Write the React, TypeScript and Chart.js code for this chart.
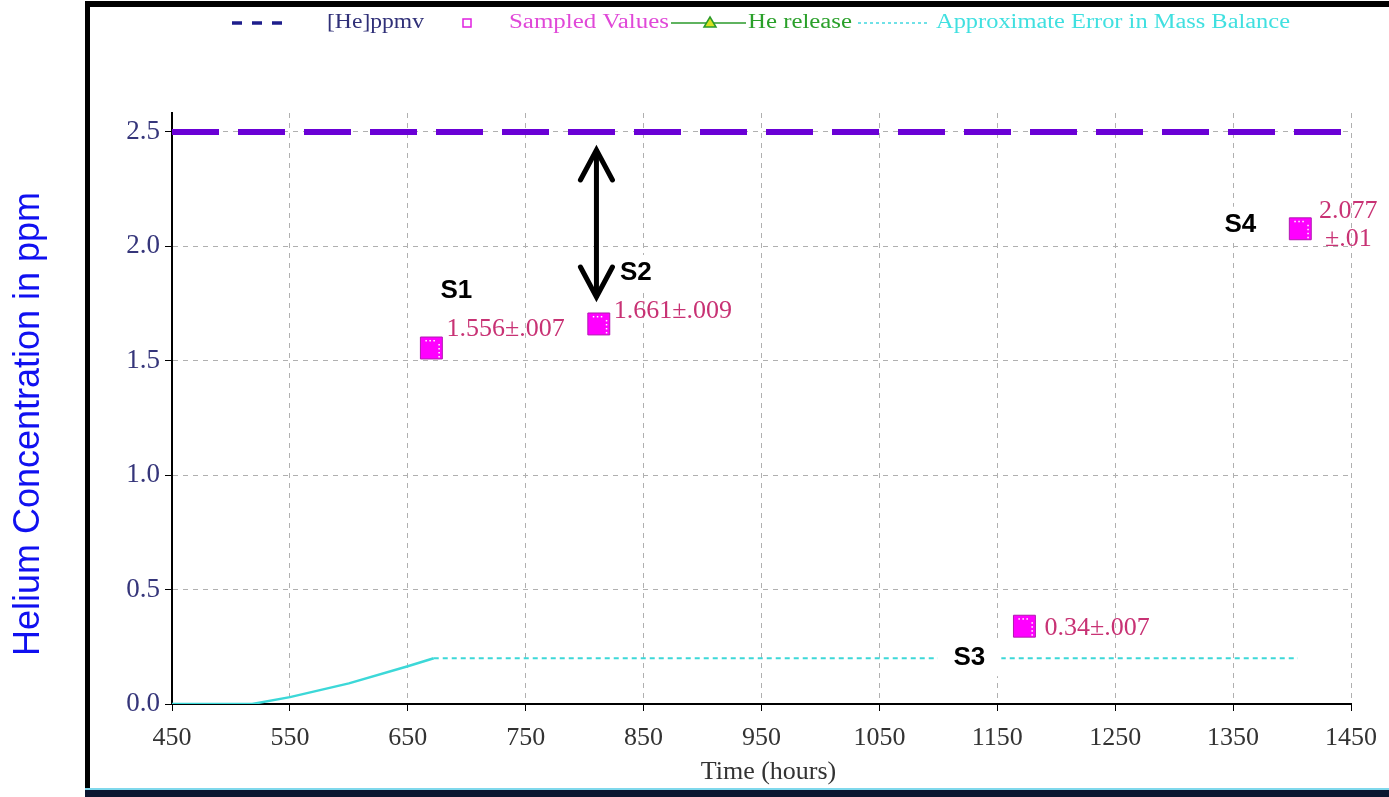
import React, { useEffect, useRef } from "react";
import { Chart, registerables } from "chart.js";

Chart.register(...registerables);

// ---------- data ----------
const X_TICKS = [450, 550, 650, 750, 850, 950, 1050, 1150, 1250, 1350, 1450];
const Y_TICKS = [0, 0.5, 1.0, 1.5, 2.0, 2.5];
const X_MIN = 450;
const X_MAX = 1450;
const Y_MIN = 0;
const Y_MAX = 2.583;

const HE_PPMV_HOURS = [450, 1450];
const HE_PPMV_VALUES = [2.5, 2.5];

const SAMPLE_HOURS = [670, 812, 1173, 1407];
const SAMPLE_VALUES = [1.556, 1.661, 0.34, 2.077];
const SAMPLE_TEXT = [["1.556±.007"], ["1.661±.009"], ["0.34±.007"], ["2.077", "±.01"]];
const SAMPLE_NAMES = ["S1", "S2", "S3", "S4"];

const HE_RELEASE_HOURS: number[] = [];
const HE_RELEASE_VALUES: number[] = [];

const ERROR_HOURS = [450, 518, 550, 600, 650, 672, 1405];
const ERROR_VALUES = [0, 0, 0.03, 0.09, 0.165, 0.2, 0.2];
const ERROR_DASH_FROM = 672;

const ARROW_HOUR = 810;
const ARROW_TOP = 2.43;
const ARROW_BOTTOM = 1.77;

const LEGEND_LABELS = ["[He]ppmv", "Sampled Values", "He release", "Approximate Error in Mass Balance"];
const X_TITLE = "Time (hours)";
const Y_TITLE = "Helium Concentration in ppm";

// ---------- layout (pixels) ----------
const NAME_OFFSETS = [
  [25, -57],
  [37, -51],
  [-55, 32],
  [-60, -4],
];
const TEXT_OFFSETS = [
  { dx: 15, dys: [-19], center: false },
  { dx: 15, dys: [-13], center: false },
  { dx: 20, dys: [2], center: false },
  { dx: 48, dys: [-18, 10], center: true },
];

const SERIF = '"Liberation Serif", "Times New Roman", serif';
const SANS = '"Liberation Sans", Arial, sans-serif';

function stretchText(ctx: CanvasRenderingContext2D, text: string, x: number, y: number, w: number, font: string, color: string) {
  ctx.save();
  ctx.font = font;
  ctx.fillStyle = color;
  ctx.textBaseline = "middle";
  ctx.textAlign = "left";
  const m = ctx.measureText(text).width;
  ctx.translate(x, y);
  ctx.scale(w / m, 1);
  ctx.fillText(text, 0, 0);
  ctx.restore();
}

const decorPlugin = {
  id: "decor",
  beforeDraw(chart: any) {
    const ctx: CanvasRenderingContext2D = chart.ctx;
    const W = chart.width;
    const H = chart.height;
    ctx.save();
    ctx.fillStyle = "#ffffff";
    ctx.fillRect(0, 0, W, H);
    // frame
    ctx.fillStyle = "#000000";
    ctx.fillRect(85, 1, W - 85, 6);
    ctx.fillRect(85, 1, 5, H - 1);
    ctx.fillStyle = "#7fd8ec";
    ctx.fillRect(85, 788, W - 85, 2);
    ctx.fillStyle = "#0b1630";
    ctx.fillRect(85, 790, W - 85, H - 790);
    ctx.restore();
  },
  afterDatasetsDraw(chart: any) {
    const ctx: CanvasRenderingContext2D = chart.ctx;
    const xs = chart.scales.x;
    const ys = chart.scales.y;
    const area = chart.chartArea;
    ctx.save();

    // white speckle inside sample markers
    ctx.fillStyle = "#ffffff";
    SAMPLE_HOURS.forEach((h, i) => {
      const px = xs.getPixelForValue(h);
      const py = ys.getPixelForValue(SAMPLE_VALUES[i]);
      for (let k = -6; k <= 4; k += 4) ctx.fillRect(px + k, py - 8, 1.5, 1.5);
      for (let k = -4; k <= 8; k += 4) ctx.fillRect(px + 7, py + k, 1.5, 1.5);
    });

    // value labels
    ctx.font = `26px ${SERIF}`;
    ctx.fillStyle = "#c83274";
    ctx.textBaseline = "middle";
    SAMPLE_TEXT.forEach((lines, i) => {
      const px = xs.getPixelForValue(SAMPLE_HOURS[i]);
      const py = ys.getPixelForValue(SAMPLE_VALUES[i]);
      const o = TEXT_OFFSETS[i];
      ctx.textAlign = o.center ? "center" : "left";
      lines.forEach((t, j) => ctx.fillText(t, px + o.dx, py + o.dys[j]));
    });

    // sample names with white boxes
    ctx.font = `bold 26px ${SANS}`;
    ctx.textAlign = "center";
    SAMPLE_NAMES.forEach((n, i) => {
      const px = xs.getPixelForValue(SAMPLE_HOURS[i]) + NAME_OFFSETS[i][0];
      const py = ys.getPixelForValue(SAMPLE_VALUES[i]) + NAME_OFFSETS[i][1];
      const w = ctx.measureText(n).width;
      ctx.fillStyle = "#ffffff";
      ctx.fillRect(px - w / 2 - 16, py - 18, w + 32, 36);
      ctx.fillStyle = "#000000";
      ctx.fillText(n, px, py);
    });

    // double arrow
    const ax = xs.getPixelForValue(ARROW_HOUR);
    const ay1 = ys.getPixelForValue(ARROW_TOP);
    const ay2 = ys.getPixelForValue(ARROW_BOTTOM);
    ctx.strokeStyle = "#000000";
    ctx.lineWidth = 5;
    ctx.lineCap = "round";
    ctx.lineJoin = "miter";
    ctx.beginPath();
    ctx.moveTo(ax, ay1 + 3);
    ctx.lineTo(ax, ay2 - 3);
    ctx.stroke();
    ctx.beginPath();
    ctx.moveTo(ax - 16, ay1 + 32);
    ctx.lineTo(ax, ay1 + 2);
    ctx.lineTo(ax + 16, ay1 + 32);
    ctx.stroke();
    ctx.beginPath();
    ctx.moveTo(ax - 16, ay2 - 32);
    ctx.lineTo(ax, ay2 - 2);
    ctx.lineTo(ax + 16, ay2 - 32);
    ctx.stroke();

    // legend
    const ly = 23;
    ctx.lineCap = "butt";
    ctx.strokeStyle = "#1e1e8c";
    ctx.lineWidth = 3.5;
    [[232, 242], [252, 262], [272, 282]].forEach(([a, b]) => {
      ctx.beginPath();
      ctx.moveTo(a, ly);
      ctx.lineTo(b, ly);
      ctx.stroke();
    });
    stretchText(ctx, LEGEND_LABELS[0], 327, ly, 97, `20px ${SERIF}`, "#303078");
    ctx.strokeStyle = "#e020e0";
    ctx.lineWidth = 1.5;
    ctx.strokeRect(463, ly - 4, 8, 8);
    stretchText(ctx, LEGEND_LABELS[1], 509, ly, 160, `20px ${SERIF}`, "#e048d8");
    ctx.strokeStyle = "#2a9a2a";
    ctx.lineWidth = 1.5;
    ctx.beginPath();
    ctx.moveTo(671, ly);
    ctx.lineTo(746, ly);
    ctx.stroke();
    ctx.fillStyle = "#d8e020";
    ctx.beginPath();
    ctx.moveTo(710, ly - 6);
    ctx.lineTo(716, ly + 4);
    ctx.lineTo(704, ly + 4);
    ctx.closePath();
    ctx.fill();
    ctx.stroke();
    stretchText(ctx, LEGEND_LABELS[2], 748, ly, 104, `20px ${SERIF}`, "#2aa02a");
    ctx.strokeStyle = "#40d8e0";
    ctx.lineWidth = 1.5;
    ctx.setLineDash([3, 3]);
    ctx.beginPath();
    ctx.moveTo(858, ly);
    ctx.lineTo(928, ly);
    ctx.stroke();
    ctx.setLineDash([]);
    stretchText(ctx, LEGEND_LABELS[3], 936, ly, 354, `20px ${SERIF}`, "#40e0e0");

    // axis titles
    ctx.font = `26px ${SERIF}`;
    ctx.fillStyle = "#333333";
    ctx.textAlign = "center";
    ctx.textBaseline = "middle";
    ctx.fillText(X_TITLE, (area.left + area.right) / 2 + 7, 772);

    ctx.translate(29, 424);
    ctx.rotate(-Math.PI / 2);
    ctx.font = `36px ${SANS}`;
    ctx.fillStyle = "#1010f0";
    ctx.fillText(Y_TITLE, 0, 0);
    ctx.restore();
  },
};

export default function App() {
  const ref = useRef<HTMLCanvasElement | null>(null);
  useEffect(() => {
    if (!ref.current) return;
    const Y_W = 60;
    const X_H = 60;
    const chart = new Chart(ref.current, {
      type: "line",
      data: {
        datasets: [
          {
            label: LEGEND_LABELS[0],
            data: HE_PPMV_HOURS.map((x, i) => ({ x, y: HE_PPMV_VALUES[i] })),
            borderColor: "#6a00d6",
            borderWidth: 6,
            borderDash: [47, 19],
            borderCapStyle: "butt",
            pointRadius: 0,
            fill: false,
          },
          {
            label: LEGEND_LABELS[1],
            data: SAMPLE_HOURS.map((x, i) => ({ x, y: SAMPLE_VALUES[i] })),
            showLine: false,
            pointStyle: "rect",
            pointRadius: 15.5,
            backgroundColor: "#ff00ff",
            borderColor: "#b018b0",
            borderWidth: 1,
          },
          {
            label: LEGEND_LABELS[2],
            data: HE_RELEASE_HOURS.map((x, i) => ({ x, y: HE_RELEASE_VALUES[i] })),
            borderColor: "#2a9a2a",
            pointStyle: "triangle",
            pointRadius: 4,
          },
          {
            label: LEGEND_LABELS[3],
            data: ERROR_HOURS.map((x, i) => ({ x, y: ERROR_VALUES[i] })),
            borderColor: "#3cd8d8",
            borderWidth: 2.5,
            pointRadius: 0,
            tension: 0,
            segment: {
              borderDash: (c: any) => (c.p0.parsed.x >= ERROR_DASH_FROM ? [5, 4] : undefined),
              borderWidth: (c: any) => (c.p0.parsed.x >= ERROR_DASH_FROM ? 2 : undefined),
            },
          },
        ],
      },
      options: {
        animation: false,
        responsive: false,
        devicePixelRatio: 1,
        layout: { padding: { left: 172 - Y_W, right: 35, top: 113, bottom: 797 - 704 - X_H } },
        plugins: { legend: { display: false }, tooltip: { enabled: false }, title: { display: false } },
        scales: {
          x: {
            type: "linear",
            min: X_MIN,
            max: X_MAX,
            afterBuildTicks: (s: any) => {
              s.ticks = X_TICKS.map((v) => ({ value: v }));
            },
            afterFit: (s: any) => {
              s.height = X_H;
            },
            ticks: {
              color: "#333333",
              font: { family: SERIF, size: 26 },
              padding: 12,
              maxRotation: 0,
              autoSkip: false,
              callback: (v: any) => String(v),
            },
            grid: { color: "#b0b0b0", tickColor: "#000000", tickLength: 7, lineWidth: 1 },
            border: { display: true, color: "#000000", width: 2, dash: [5, 5] },
          },
          y: {
            type: "linear",
            min: Y_MIN,
            max: Y_MAX,
            afterBuildTicks: (s: any) => {
              s.ticks = Y_TICKS.map((v) => ({ value: v }));
            },
            afterFit: (s: any) => {
              s.width = Y_W;
            },
            ticks: {
              color: "#35357a",
              font: { family: SERIF, size: 27 },
              padding: 5,
              autoSkip: false,
              callback: (v: any) => Number(v).toFixed(1),
            },
            grid: { color: "#b0b0b0", tickColor: "#000000", tickLength: 7, lineWidth: 1 },
            border: { display: true, color: "#000000", width: 2, dash: [5, 5] },
          },
        },
      },
      plugins: [decorPlugin],
    } as any);
    return () => chart.destroy();
  }, []);
  return (
    <div style={{ position: "absolute", left: 0, top: 0, width: 1389, height: 797 }}>
      <canvas ref={ref} width={1389} height={797} style={{ display: "block", width: 1389, height: 797 }} />
    </div>
  );
}
